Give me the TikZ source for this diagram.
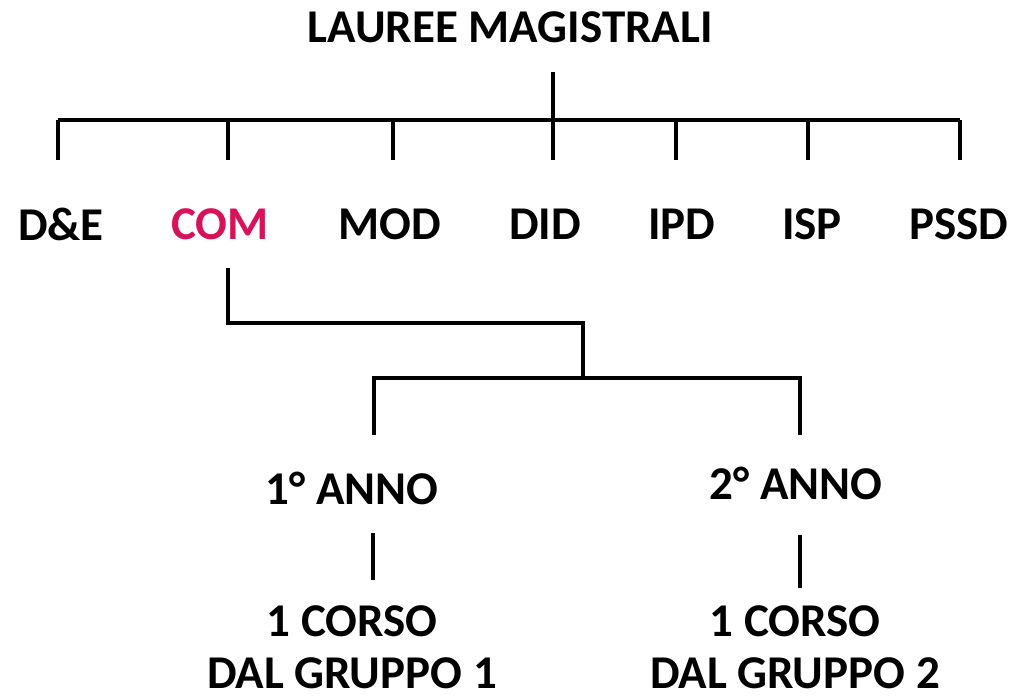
\documentclass[tikz,border=0pt]{standalone}
\usepackage{fontspec}
\setmainfont{Carlito}
\definecolor{compink}{HTML}{D6125A}
\begin{document}
\begin{tikzpicture}[x=1pt,y=-1pt,
  lbl/.style={inner sep=0pt,font=\fontsize{47}{50}\selectfont\bfseries},
  ln/.style={line width=3.3pt}]
\useasboundingbox (0,0) rectangle (1014,697);
% title and labels
\node[lbl] (title) at (510,27) {LAUREE MAGISTRALI};
\node[lbl] (de) at (61,224) {D\&E};
\node[lbl,text=compink] (com) at (220,224) {COM};
\node[lbl] (mod) at (390,224) {MOD};
\node[lbl] (did) at (545,224) {DID};
\node[lbl] (ipd) at (682,224) {IPD};
\node[lbl] (isp) at (812,224) {ISP};
\node[lbl] (pssd) at (959,224) {PSSD};
\node[lbl] (a1) at (352,488) {1° ANNO};
\node[lbl] (a2) at (796,483) {2° ANNO};
\node[lbl] (c1) at (352,621) {1 CORSO};
\node[lbl] (g1) at (352,673) {DAL GRUPPO 1};
\node[lbl] (c2) at (795,621) {1 CORSO};
\node[lbl] (g2) at (795,673) {DAL GRUPPO 2};
% coordinates
\coordinate (t0) at (553,72);
\coordinate (t1) at (553,120);
\coordinate (hl) at (58,120);
\coordinate (hr) at (960,120);
\foreach \n/\x in {de/58,com/228,mod/393,did/553,ipd/676,isp/808,pssd/960}{
  \coordinate (\n top) at (\x,120);
  \coordinate (\n bot) at (\x,160);
}
\coordinate (cs) at (228,268);
\coordinate (cc) at (228,323);
\coordinate (cm) at (583,323);
\coordinate (cb) at (583,378);
\coordinate (bl) at (374,378);
\coordinate (br) at (800,378);
\coordinate (bl2) at (374,435);
\coordinate (br2) at (800,435);
\coordinate (v1a) at (373,533);
\coordinate (v1b) at (373,580);
\coordinate (v2a) at (800,535);
\coordinate (v2b) at (800,588);
% connectors
\draw[ln] (t0) -- (t1);
\draw[ln,line width=4pt] (hl) -- (hr);
\foreach \n in {de,com,mod,did,ipd,isp,pssd}{
  \draw[ln] (\n top) -- (\n bot);
}
\draw[ln] (cs) -- (cc) -- (cm) -- (cb);
\draw[ln] (bl2) -- (bl) -- (br) -- (br2);
\draw[ln] (v1a) -- (v1b);
\draw[ln] (v2a) -- (v2b);
\end{tikzpicture}
\end{document}
